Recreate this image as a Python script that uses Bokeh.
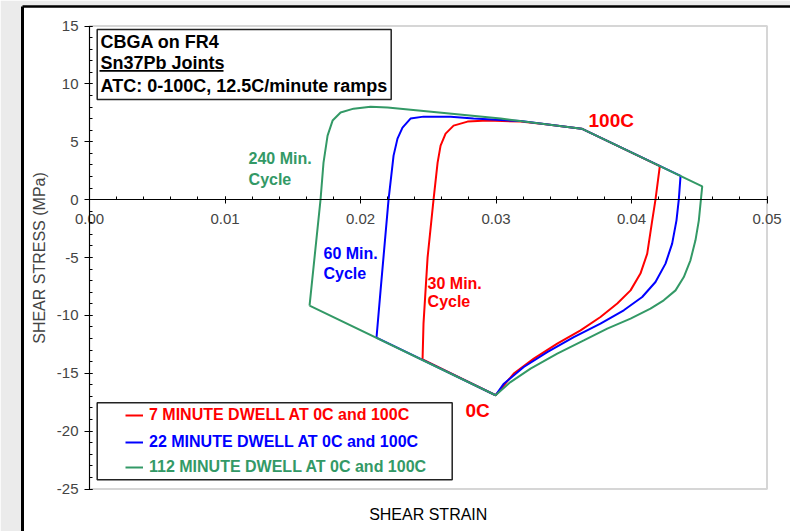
from bokeh.plotting import figure
from bokeh.models import (Range1d, LinearAxis, SingleIntervalTicker, FixedTicker,
                          NumeralTickFormatter, BoxAnnotation, Label, Legend, LegendItem)
from bokeh.embed import file_html
from bokeh.resources import INLINE

FONT = "Liberation Sans"
RED = "#ff0000"
BLUE = "#0000ff"
GREEN = "#339966"

# Hysteresis loops: shear strain vs shear stress (MPa), one closed loop per dwell time
# 30 minute cycle (7 minute dwell at 0C and 100C)
strain_7 = [0.02458, 0.02465, 0.02495, 0.02539, 0.02569, 0.02591, 0.02628, 0.02687,
            0.02790, 0.02938, 0.03181, 0.03366, 0.03632, 0.04209, 0.04177, 0.04153,
            0.04116, 0.04066, 0.03993, 0.03895, 0.03771, 0.03624, 0.03452, 0.03279,
            0.03131, 0.02997, 0.02458]
stress_7 = [-13.80, -10.71, -5.01, 0.00, 3.20, 4.67, 5.70, 6.39,
            6.74, 6.83, 6.74, 6.52, 6.13, 2.90, 0.00, -1.79,
            -4.67, -6.39, -7.84, -8.98, -10.14, -11.29, -12.44, -13.74,
            -15.03, -16.90, -13.80]

# 60 minute cycle (22 minute dwell)
strain_22 = [0.02118, 0.02148, 0.02207, 0.02244, 0.02273, 0.02310, 0.02369, 0.02465,
             0.02665, 0.02834, 0.03181, 0.03632, 0.04362, 0.04349, 0.04332, 0.04300,
             0.04251, 0.04177, 0.04079, 0.03943, 0.03771, 0.03574, 0.03378, 0.03205,
             0.03058, 0.02997, 0.02118]
stress_22 = [-11.93, -7.86, 0.00, 3.80, 5.27, 6.22, 7.00, 7.17,
             7.17, 7.00, 6.79, 6.13, 2.05, 0.00, -1.79, -3.80,
             -5.53, -7.12, -8.41, -9.56, -10.71, -11.87, -13.17, -14.46,
             -15.90, -16.90, -11.93]

# 240 minute cycle (112 minute dwell)
strain_112 = [0.01624, 0.01705, 0.01727, 0.01757, 0.01794, 0.01853, 0.01949, 0.02074,
              0.02200, 0.03034, 0.03632, 0.04522, 0.04514, 0.04497, 0.04472, 0.04435,
              0.04386, 0.04325, 0.04238, 0.04140, 0.03993, 0.03821, 0.03648, 0.03452,
              0.03255, 0.03107, 0.02997, 0.01624]
stress_112 = [-9.16, 0.00, 3.20, 5.53, 6.83, 7.52, 7.86, 8.03,
              7.95, 7.00, 6.13, 1.15, 0.22, -1.79, -3.52, -5.24,
              -6.69, -7.84, -8.70, -9.42, -10.28, -11.14, -12.16, -13.30,
              -14.60, -15.76, -16.90, -9.16]

legend_labels = ["7 MINUTE DWELL AT 0C and 100C",
                 "22 MINUTE DWELL AT 0C and 100C",
                 "112 MINUTE DWELL AT 0C and 100C"]
title_lines = ["CBGA on FR4", "Sn37Pb Joints", "ATC: 0-100C, 12.5C/minute ramps"]

X_MIN, X_MAX = 0.0, 0.05
Y_MIN, Y_MAX = -25.0, 15.0

# the frame fills the white card; axes sit inside it at strain 0 / stress 0
PX_PER_STRAIN = 13550.0
PX_PER_MPA = 11.575
p = figure(width=790, height=531, output_backend="svg", toolbar_location=None,
           x_range=Range1d(X_MIN - 67 / PX_PER_STRAIN, X_MAX + 23.5 / PX_PER_STRAIN),
           y_range=Range1d(Y_MIN - 42.5 / PX_PER_MPA, Y_MAX + 19.5 / PX_PER_MPA),
           x_axis_location=None, y_axis_location=None,
           background_fill_color="white", border_fill_color="#ebebeb")
p.min_border_left = 22
p.min_border_top = 6
p.min_border_right = 0
p.min_border_bottom = 0
p.xgrid.visible = False
p.ygrid.visible = False
p.outline_line_color = None


def edge_axis(width):
    return LinearAxis(ticker=FixedTicker(ticks=[]), axis_line_color="black",
                      axis_line_width=width, major_tick_line_color=None,
                      minor_tick_line_color=None, major_tick_out=0, major_tick_in=0,
                      minor_tick_out=0, minor_tick_in=0, major_label_standoff=0,
                      axis_label_standoff=0)


# black card edges
p.add_layout(edge_axis(3), "left")
p.add_layout(edge_axis(2.5), "above")

# light grey box round the data area
p.add_layout(BoxAnnotation(left=X_MIN, right=X_MAX, bottom=Y_MIN, top=Y_MAX,
                           fill_alpha=0, line_color="#d6d6d6", line_alpha=1,
                           line_width=2, level="underlay"))

# y axis at strain 0
ya = LinearAxis(fixed_location=0, bounds=(Y_MIN, Y_MAX),
                ticker=SingleIntervalTicker(interval=5, num_minor_ticks=5),
                formatter=NumeralTickFormatter(format="0"),
                axis_label="SHEAR STRESS (MPa)")
ya.axis_label_text_font = FONT
ya.axis_label_text_font_style = "normal"
ya.axis_label_text_font_size = "16px"
ya.axis_label_standoff = 6
ya.major_label_text_font = FONT
ya.major_label_text_font_size = "15px"
ya.major_label_standoff = 6
ya.major_tick_out = 5
ya.major_tick_in = 3
ya.minor_tick_out = 0
ya.minor_tick_in = 3
ya.axis_line_color = "black"
ya.major_tick_line_color = "black"
ya.minor_tick_line_color = "black"
p.add_layout(ya, "left")

# x axis crossing at zero stress
xa = LinearAxis(fixed_location=0, bounds=(X_MIN, X_MAX),
                ticker=SingleIntervalTicker(interval=0.01, num_minor_ticks=5),
                formatter=NumeralTickFormatter(format="0.00"))
xa.major_label_text_font = FONT
xa.major_label_text_font_size = "15px"
xa.major_label_standoff = 10
xa.major_tick_out = 4
xa.major_tick_in = 3
xa.minor_tick_out = 0
xa.minor_tick_in = 3
xa.axis_line_color = "black"
xa.major_tick_line_color = "black"
xa.minor_tick_line_color = "black"
p.add_layout(xa, "below")

p.add_layout(Label(x=(X_MIN + X_MAX) / 2, y=-27.21, text="SHEAR STRAIN",
                   text_font=FONT, text_font_size="16px", text_color="black",
                   text_align="center", text_baseline="middle"))

# loops
r7 = p.line(strain_7, stress_7, line_color=RED, line_width=2)
r22 = p.line(strain_22, stress_22, line_color=BLUE, line_width=2)
r112 = p.line(strain_112, stress_112, line_color=GREEN, line_width=2)


def screen_box(l, r, b, t, fill, line=None, width=1.5):
    return BoxAnnotation(left=l, right=r, bottom=b, top=t,
                         left_units="screen", right_units="screen",
                         top_units="screen", bottom_units="screen",
                         fill_color=fill, fill_alpha=1,
                         line_color=line, line_alpha=1, line_width=width)


# title box
p.add_layout(screen_box(74.7, 368.7, 432, 502, "white", "#222222"))
for txt, y in zip(title_lines, [489.7, 468.2, 446.0]):
    p.add_layout(Label(x=78, y=y, x_units="screen", y_units="screen", text=txt,
                       text_font=FONT, text_font_style="bold", text_font_size="18px",
                       text_baseline="middle", text_align="left", text_color="black"))
p.add_layout(screen_box(77, 201, 459.7, 461.5, "black"))

# legend box
p.add_layout(screen_box(74.7, 429.7, 51.7, 128.7, "white", "#222222"))
for r, lab, col, yb in zip([r7, r22, r112], legend_labels, [RED, BLUE, GREEN],
                           [106.0, 79.3, 53.7]):
    lg = Legend(items=[LegendItem(label=lab, renderers=[r])], location=(103, yb),
                glyph_width=18, glyph_height=20, label_height=20, label_standoff=6,
                padding=0, margin=0, spacing=0, border_line_color=None,
                background_fill_alpha=0, label_text_font=FONT,
                label_text_font_style="bold", label_text_font_size="16px",
                label_text_color=col)
    p.add_layout(lg)


# annotations
def note(x, y, txt, col, size):
    p.add_layout(Label(x=x, y=y, text=txt, text_font=FONT, text_font_style="bold",
                       text_font_size=size, text_color=col, text_baseline="middle",
                       text_align="left"))


note(0.03683, 6.83, "100C", RED, "19px")
note(0.02775, -18.23, "0C", RED, "19px")
note(0.01174, 3.54, "240 Min.", GREEN, "16px")
note(0.01174, 1.73, "Cycle", GREEN, "16px")
note(0.01727, -4.66, "60 Min.", BLUE, "16px")
note(0.01727, -6.39, "Cycle", BLUE, "16px")
note(0.02495, -7.22, "30 Min.", RED, "16px")
note(0.02495, -8.81, "Cycle", RED, "16px")

open("out.html", "w").write(file_html(p, INLINE))
